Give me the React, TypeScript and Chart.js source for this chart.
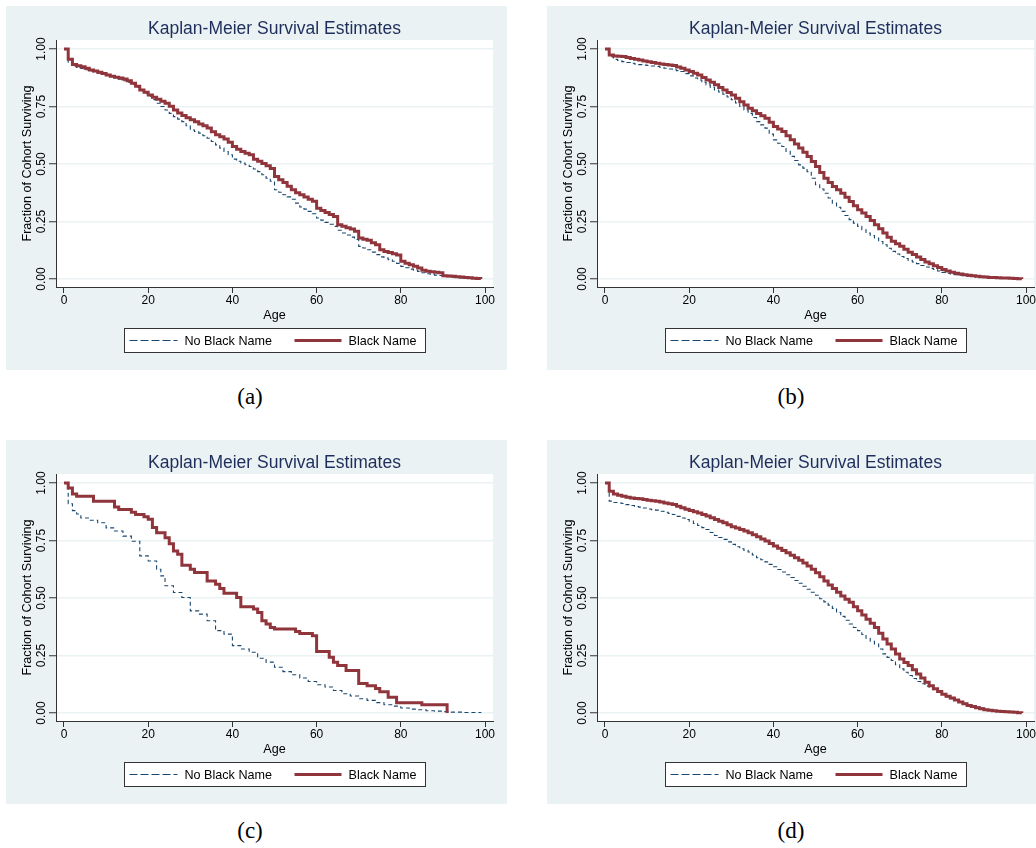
import React, { useEffect, useRef } from 'react';
import { Chart, registerables } from 'chart.js';

Chart.register(...registerables);

// ---------- text ----------
const CHART_TITLE = 'Kaplan-Meier Survival Estimates';
const Y_TITLE = 'Fraction of Cohort Surviving';
const X_TITLE = 'Age';
const SERIES_LABELS = ['No Black Name', 'Black Name'];
const X_TICKS = [0, 20, 40, 60, 80, 100];
const Y_TICKS = [0, 0.25, 0.5, 0.75, 1];
const Y_TICK_LABELS = ['0.00', '0.25', '0.50', '0.75', '1.00'];
const CAPTIONS = ['(a)', '(b)', '(c)', '(d)'];

// yearly ages used by the large-sample curves
const YEARS = [
  0, 1, 2, 3, 4, 5, 6, 7, 8, 9, 10, 11, 12, 13, 14, 15, 16, 17, 18, 19,
  20, 21, 22, 23, 24, 25, 26, 27, 28, 29, 30, 31, 32, 33, 34, 35, 36, 37, 38, 39,
  40, 41, 42, 43, 44, 45, 46, 47, 48, 49, 50, 51, 52, 53, 54, 55, 56, 57, 58, 59,
  60, 61, 62, 63, 64, 65, 66, 67, 68, 69, 70, 71, 72, 73, 74, 75, 76, 77, 78, 79,
  80, 81, 82, 83, 84, 85, 86, 87, 88, 89, 90, 91, 92, 93, 94, 95, 96, 97, 98, 99,
];

// ---------- panel (a) ----------
const A_NOBLACK_SURV = [
  1, 0.94, 0.925, 0.92, 0.915, 0.91, 0.905, 0.9, 0.895, 0.89, 0.885, 0.88, 0.875, 0.869, 0.862, 0.854, 0.845, 0.833, 0.82, 0.808,
  0.795, 0.78, 0.764, 0.75, 0.735, 0.72, 0.706, 0.695, 0.684, 0.666, 0.648, 0.641, 0.634, 0.623, 0.612, 0.598, 0.583, 0.569, 0.554, 0.54,
  0.521, 0.512, 0.504, 0.497, 0.489, 0.478, 0.467, 0.453, 0.438, 0.425, 0.388, 0.377, 0.366, 0.357, 0.347, 0.33, 0.313, 0.304, 0.294, 0.284,
  0.265, 0.256, 0.246, 0.238, 0.229, 0.212, 0.2, 0.191, 0.182, 0.172, 0.142, 0.135, 0.127, 0.117, 0.106, 0.096, 0.091, 0.084, 0.077, 0.068,
  0.055, 0.049, 0.043, 0.038, 0.033, 0.027, 0.023, 0.02, 0.017, 0.015, 0.012, 0.01, 0.008, 0.006, 0.005, 0.004, 0.003, 0.002, 0.001, 0,
];
const A_BLACK_SURV = [
  1, 0.955, 0.933, 0.927, 0.923, 0.916, 0.909, 0.904, 0.899, 0.893, 0.887, 0.882, 0.877, 0.874, 0.87, 0.862, 0.851, 0.838, 0.822, 0.812,
  0.8, 0.79, 0.781, 0.773, 0.764, 0.751, 0.735, 0.722, 0.711, 0.701, 0.692, 0.684, 0.674, 0.666, 0.656, 0.64, 0.627, 0.618, 0.609, 0.595,
  0.576, 0.564, 0.554, 0.547, 0.54, 0.521, 0.512, 0.502, 0.492, 0.48, 0.446, 0.432, 0.42, 0.403, 0.388, 0.375, 0.366, 0.357, 0.347, 0.338,
  0.308, 0.298, 0.289, 0.28, 0.272, 0.236, 0.229, 0.223, 0.217, 0.208, 0.178, 0.173, 0.168, 0.158, 0.149, 0.127, 0.12, 0.115, 0.11, 0.104,
  0.077, 0.069, 0.062, 0.055, 0.048, 0.038, 0.034, 0.031, 0.029, 0.027, 0.014, 0.013, 0.012, 0.01, 0.009, 0.007, 0.005, 0.003, 0.002, 0,
];

// ---------- panel (b) ----------
const B_NOBLACK_SURV = [
  1, 0.967, 0.955, 0.95, 0.945, 0.941, 0.938, 0.935, 0.932, 0.93, 0.928, 0.926, 0.924, 0.92, 0.916, 0.913, 0.91, 0.906, 0.902, 0.893,
  0.883, 0.874, 0.865, 0.855, 0.844, 0.833, 0.822, 0.813, 0.803, 0.791, 0.779, 0.765, 0.75, 0.735, 0.72, 0.702, 0.684, 0.67, 0.656, 0.63,
  0.605, 0.59, 0.576, 0.555, 0.533, 0.515, 0.496, 0.482, 0.467, 0.438, 0.41, 0.391, 0.373, 0.352, 0.33, 0.312, 0.294, 0.276, 0.258, 0.243,
  0.229, 0.214, 0.2, 0.189, 0.178, 0.163, 0.149, 0.134, 0.12, 0.109, 0.098, 0.089, 0.081, 0.074, 0.067, 0.059, 0.052, 0.046, 0.041, 0.035,
  0.029, 0.025, 0.022, 0.019, 0.016, 0.014, 0.012, 0.011, 0.009, 0.008, 0.007, 0.006, 0.005, 0.004, 0.004, 0.003, 0.002, 0.002, 0.001, 0,
];
const B_BLACK_SURV = [
  1, 0.974, 0.97, 0.968, 0.967, 0.963, 0.959, 0.955, 0.952, 0.948, 0.945, 0.941, 0.938, 0.935, 0.933, 0.93, 0.928, 0.922, 0.916, 0.909,
  0.902, 0.895, 0.887, 0.876, 0.865, 0.855, 0.844, 0.833, 0.822, 0.811, 0.8, 0.786, 0.771, 0.756, 0.742, 0.731, 0.72, 0.71, 0.699, 0.681,
  0.663, 0.652, 0.641, 0.623, 0.605, 0.587, 0.569, 0.551, 0.533, 0.511, 0.489, 0.463, 0.438, 0.42, 0.402, 0.388, 0.373, 0.355, 0.337, 0.319,
  0.301, 0.287, 0.272, 0.254, 0.236, 0.218, 0.2, 0.182, 0.164, 0.153, 0.142, 0.129, 0.116, 0.106, 0.096, 0.085, 0.074, 0.066, 0.058, 0.05,
  0.041, 0.035, 0.029, 0.025, 0.022, 0.019, 0.016, 0.014, 0.012, 0.01, 0.009, 0.007, 0.006, 0.005, 0.004, 0.004, 0.003, 0.002, 0.001, 0,
];

// ---------- panel (c) (small sample, irregular event ages) ----------
const C_NOBLACK_AGE = [0, 1, 2, 3, 4, 6, 8, 10, 12, 14, 16, 18, 20, 22, 23, 24, 26, 28, 30, 32, 34, 36, 38, 40, 42, 44, 46, 48, 50, 52, 54, 56, 58, 60, 62, 64, 66, 68, 70, 72, 74, 76, 78, 80, 82, 84, 86, 88, 90, 92, 95, 99];
const C_NOBLACK_SURV = [1, 0.91, 0.88, 0.865, 0.848, 0.838, 0.827, 0.805, 0.791, 0.769, 0.747, 0.683, 0.661, 0.625, 0.596, 0.553, 0.524, 0.502, 0.444, 0.43, 0.401, 0.358, 0.343, 0.293, 0.278, 0.264, 0.238, 0.221, 0.199, 0.18, 0.166, 0.152, 0.137, 0.123, 0.113, 0.098, 0.084, 0.074, 0.062, 0.055, 0.045, 0.036, 0.03, 0.022, 0.017, 0.014, 0.01, 0.008, 0.006, 0.004, 0.002, 0];
const C_BLACK_AGE = [0, 1, 2, 3, 7, 12, 13, 16, 17, 19, 20, 21, 22, 24, 25, 26, 27, 28, 30, 31, 34, 36, 37, 38, 41, 42, 45, 46, 47, 48, 49, 50, 55, 56, 59, 60, 63, 64, 65, 67, 70, 72, 74, 75, 77, 79, 85, 91];
const C_BLACK_SURV = [1, 0.978, 0.952, 0.942, 0.921, 0.896, 0.885, 0.873, 0.863, 0.853, 0.842, 0.806, 0.784, 0.762, 0.736, 0.704, 0.69, 0.642, 0.625, 0.611, 0.574, 0.56, 0.541, 0.521, 0.502, 0.462, 0.452, 0.437, 0.401, 0.387, 0.372, 0.365, 0.354, 0.346, 0.336, 0.267, 0.242, 0.221, 0.206, 0.185, 0.128, 0.118, 0.107, 0.092, 0.069, 0.045, 0.036, 0];

// ---------- panel (d) ----------
const D_NOBLACK_SURV = [
  1, 0.921, 0.915, 0.913, 0.911, 0.906, 0.902, 0.898, 0.895, 0.891, 0.887, 0.884, 0.882, 0.877, 0.873, 0.868, 0.863, 0.855, 0.848, 0.841,
  0.834, 0.824, 0.815, 0.806, 0.798, 0.785, 0.772, 0.763, 0.755, 0.744, 0.733, 0.723, 0.714, 0.707, 0.7, 0.687, 0.675, 0.666, 0.657, 0.646,
  0.636, 0.624, 0.613, 0.601, 0.589, 0.576, 0.564, 0.551, 0.538, 0.525, 0.512, 0.497, 0.483, 0.469, 0.455, 0.437, 0.42, 0.403, 0.387, 0.372,
  0.358, 0.341, 0.325, 0.312, 0.3, 0.278, 0.257, 0.242, 0.228, 0.21, 0.192, 0.177, 0.163, 0.15, 0.137, 0.127, 0.117, 0.109, 0.101, 0.091,
  0.081, 0.071, 0.062, 0.055, 0.048, 0.042, 0.036, 0.031, 0.026, 0.021, 0.016, 0.013, 0.011, 0.009, 0.007, 0.006, 0.004, 0.003, 0.001, 0,
];
const D_BLACK_SURV = [
  1, 0.964, 0.952, 0.947, 0.942, 0.938, 0.935, 0.933, 0.931, 0.928, 0.925, 0.923, 0.921, 0.917, 0.913, 0.91, 0.906, 0.899, 0.892, 0.886,
  0.88, 0.875, 0.87, 0.863, 0.856, 0.849, 0.841, 0.834, 0.827, 0.818, 0.81, 0.804, 0.798, 0.791, 0.784, 0.775, 0.766, 0.757, 0.748, 0.737,
  0.726, 0.716, 0.707, 0.697, 0.686, 0.675, 0.664, 0.652, 0.639, 0.625, 0.61, 0.592, 0.574, 0.557, 0.541, 0.525, 0.509, 0.495, 0.481, 0.462,
  0.444, 0.426, 0.408, 0.39, 0.372, 0.347, 0.322, 0.3, 0.278, 0.256, 0.235, 0.22, 0.206, 0.188, 0.17, 0.152, 0.134, 0.119, 0.105, 0.093,
  0.081, 0.073, 0.065, 0.056, 0.048, 0.04, 0.033, 0.028, 0.023, 0.018, 0.014, 0.012, 0.01, 0.008, 0.007, 0.005, 0.004, 0.003, 0.001, 0,
];

// ---------- style ----------
const BG = '#EAF2F3';
const GRID = '#EAF2F3';
const BLUE = '#1A476F';
const RED = '#90353B';
const TITLE_COLOR = '#1E2E5C';
const AXIS = '#333333';
const FONT = '"Liberation Sans", Arial, Helvetica, sans-serif';

const PANEL_W = 501;
const PANEL_H = 364;

type Panel = {
  left: number;
  top: number;
  caption: string;
  noBlack: [number[], number[]];
  black: [number[], number[]];
};

const PANELS: Panel[] = [
  { left: 6, top: 6, caption: CAPTIONS[0], noBlack: [YEARS, A_NOBLACK_SURV], black: [YEARS, A_BLACK_SURV] },
  { left: 547, top: 6, caption: CAPTIONS[1], noBlack: [YEARS, B_NOBLACK_SURV], black: [YEARS, B_BLACK_SURV] },
  { left: 6, top: 440, caption: CAPTIONS[2], noBlack: [C_NOBLACK_AGE, C_NOBLACK_SURV], black: [C_BLACK_AGE, C_BLACK_SURV] },
  { left: 547, top: 440, caption: CAPTIONS[3], noBlack: [YEARS, D_NOBLACK_SURV], black: [YEARS, D_BLACK_SURV] },
];

const toPoints = (ages: number[], vals: number[]) => ages.map((a, i) => ({ x: a, y: vals[i] }));

const stataPlugin = {
  id: 'stataLook',
  beforeDraw(chart: any) {
    const { ctx, chartArea: a, width, height } = chart;
    ctx.save();
    ctx.fillStyle = BG;
    ctx.fillRect(0, 0, width, height);
    ctx.fillStyle = '#ffffff';
    ctx.fillRect(a.left, a.top, a.right - a.left, a.bottom - a.top);
    ctx.restore();
  },
  afterDraw(chart: any) {
    const { ctx, chartArea: a } = chart;
    const ys = chart.scales.y;
    // rotated y tick labels
    ctx.save();
    ctx.fillStyle = '#000';
    ctx.font = `12px ${FONT}`;
    ctx.textAlign = 'center';
    ctx.textBaseline = 'middle';
    ys.ticks.forEach((t: any) => {
      const idx = Y_TICKS.indexOf(t.value);
      if (idx < 0) return;
      const py = ys.getPixelForValue(t.value);
      ctx.save();
      ctx.translate(a.left - 14.5, py);
      ctx.rotate(-Math.PI / 2);
      ctx.fillText(Y_TICK_LABELS[idx], 0, 0);
      ctx.restore();
    });
    ctx.restore();

    // legend box
    const ds = chart.data.datasets;
    const cx = (a.left + a.right) / 2;
    const bw = 301;
    const bh = 24;
    const bx = Math.round(cx - bw / 2) + 0.5;
    const by = Math.round(a.bottom + 41) + 0.5;
    const ly = by + bh / 2;
    ctx.save();
    ctx.fillStyle = '#ffffff';
    ctx.fillRect(bx, by, bw, bh);
    ctx.strokeStyle = AXIS;
    ctx.lineWidth = 1;
    ctx.strokeRect(bx, by, bw, bh);

    ctx.font = `12.6px ${FONT}`;
    ctx.fillStyle = '#000';
    ctx.textAlign = 'left';
    ctx.textBaseline = 'middle';

    ctx.beginPath();
    ctx.setLineDash([8, 3]);
    ctx.strokeStyle = ds[0].borderColor;
    ctx.lineWidth = 1.2;
    ctx.moveTo(bx + 5, ly);
    ctx.lineTo(bx + 53, ly);
    ctx.stroke();
    ctx.setLineDash([]);
    ctx.fillText(ds[0].label, bx + 60, ly + 1);

    ctx.beginPath();
    ctx.strokeStyle = ds[1].borderColor;
    ctx.lineWidth = 3;
    ctx.moveTo(bx + 170, ly);
    ctx.lineTo(bx + 217, ly);
    ctx.stroke();
    ctx.fillText(ds[1].label, bx + 224, ly + 1);
    ctx.restore();
  },
};

function KMChart({ panel }: { panel: Panel }) {
  const ref = useRef<HTMLCanvasElement | null>(null);
  useEffect(() => {
    if (!ref.current) return;
    const chart = new Chart(ref.current, {
      type: 'line',
      data: {
        datasets: [
          {
            label: SERIES_LABELS[0],
            data: toPoints(panel.noBlack[0], panel.noBlack[1]),
            borderColor: BLUE,
            borderWidth: 1.1,
            borderDash: [4, 3],
            stepped: 'before',
            pointRadius: 0,
            fill: false,
            order: 2,
          },
          {
            label: SERIES_LABELS[1],
            data: toPoints(panel.black[0], panel.black[1]),
            borderColor: RED,
            borderWidth: 3,
            stepped: 'before',
            pointRadius: 0,
            fill: false,
            order: 1,
          },
        ],
      },
      options: {
        responsive: false,
        animation: false,
        devicePixelRatio: 1,
        layout: { padding: { left: 0, right: 14, top: 0, bottom: 43 } },
        plugins: {
          legend: { display: false },
          tooltip: { enabled: false },
          title: {
            display: true,
            text: CHART_TITLE,
            fullSize: false,
            color: TITLE_COLOR,
            font: { family: FONT, size: 17.5, weight: 'normal' },
            padding: { top: 13, bottom: 0 },
          },
        },
        scales: {
          x: {
            type: 'linear',
            min: -1.9,
            max: 101.9,
            afterBuildTicks: (s: any) => {
              s.ticks = X_TICKS.map((v) => ({ value: v }));
            },
            afterFit: (s: any) => {
              s.height = 40;
            },
            border: { display: true, color: AXIS, width: 1 },
            grid: { drawOnChartArea: false, drawTicks: true, tickLength: 6, tickColor: AXIS, tickWidth: 1 },
            ticks: {
              color: '#000',
              font: { family: FONT, size: 12 },
              padding: 0.5,
              maxRotation: 0,
              autoSkip: false,
              callback: (v: any) => String(v),
            },
            title: {
              display: true,
              text: X_TITLE,
              color: '#000',
              font: { family: FONT, size: 12.6 },
              padding: { top: 0, bottom: 4.4 },
            },
          },
          y: {
            type: 'linear',
            min: -0.0348,
            max: 1.0391,
            afterBuildTicks: (s: any) => {
              s.ticks = Y_TICKS.map((v) => ({ value: v }));
            },
            afterFit: (s: any) => {
              s.width = 50;
            },
            border: { display: true, color: AXIS, width: 1 },
            grid: { color: GRID, lineWidth: 1.5, drawTicks: true, tickLength: 7, tickColor: AXIS, tickWidth: 1 },
            ticks: { display: false },
            title: {
              display: true,
              text: Y_TITLE,
              color: '#000',
              font: { family: FONT, size: 12.6 },
              padding: { top: 14.4, bottom: 0 },
            },
          },
        },
      },
      plugins: [stataPlugin],
    } as any);
    return () => chart.destroy();
  }, [panel]);

  return (
    <canvas
      ref={ref}
      width={PANEL_W}
      height={PANEL_H}
      style={{ position: 'absolute', left: panel.left, top: panel.top, width: PANEL_W, height: PANEL_H }}
    />
  );
}

export default function App() {
  return (
    <div style={{ position: 'absolute', left: 0, top: 0, width: 1036, height: 848, overflow: 'hidden', background: '#ffffff' }}>
      {PANELS.map((p, i) => (
        <React.Fragment key={i}>
          <KMChart panel={p} />
          <div
            style={{
              position: 'absolute',
              left: p.left + 194,
              top: p.top + 377,
              width: 100,
              textAlign: 'center',
              fontFamily: '"Liberation Serif", "DejaVu Serif", serif',
              fontSize: 23,
              lineHeight: '28px',
              color: '#000',
            }}
          >
            {p.caption}
          </div>
        </React.Fragment>
      ))}
    </div>
  );
}
